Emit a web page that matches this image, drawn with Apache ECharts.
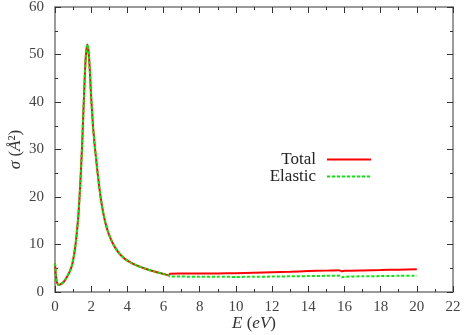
<!DOCTYPE html>
<html>
<head>
<meta charset="utf-8">
<script src="https://cdn.jsdelivr.net/npm/echarts@6/dist/echarts.min.js"></script>
<style>html,body{margin:0;padding:0;background:#fff}#c{width:464px;height:335px}</style>
</head>
<body>
<div id="c"></div>
<script>
// Energy (eV)
var energy = [0, 0.05, 0.1, 0.2, 0.3, 0.45, 0.6, 0.8, 0.95, 1.1, 1.2, 1.3, 1.4, 1.5, 1.6, 1.7, 1.79, 1.88, 2.0, 2.12, 2.3, 2.5, 2.7, 2.9, 3.1, 3.3, 3.6, 4.0, 4.5, 5.0, 5.5, 6.0, 6.3,
              6.35, 7, 8, 9, 10, 11, 12, 13, 14, 15, 15.7, 15.85, 16, 17, 18, 19, 20];
// Total cross section (Å^2)
var totalVals = [6.0, 3.4, 2.1, 1.5, 1.6, 2.0, 2.8, 4.2, 5.8, 9.0, 12.3, 16.5, 23.0, 31.0, 41.0, 49.5, 52.1, 49.5, 41.0, 34.0, 27.0, 20.5, 16.0, 13.0, 11.0, 9.5, 7.9, 6.6, 5.6, 4.9, 4.3, 3.8, 3.5,
                 3.85, 3.88, 3.9, 3.92, 3.95, 4.05, 4.15, 4.25, 4.4, 4.5, 4.6, 4.35, 4.45, 4.55, 4.62, 4.7, 4.78];
// Elastic cross section (Å^2)
var elasticVals = [6.0, 3.4, 2.1, 1.5, 1.6, 2.0, 2.8, 4.2, 5.8, 9.0, 12.3, 16.5, 23.0, 31.0, 41.0, 49.5, 52.1, 49.5, 41.0, 34.0, 27.0, 20.5, 16.0, 13.0, 11.0, 9.5, 7.9, 6.6, 5.6, 4.9, 4.3, 3.8, 3.5,
                   3.3, 3.25, 3.2, 3.2, 3.18, 3.2, 3.25, 3.3, 3.35, 3.4, 3.45, 3.1, 3.22, 3.3, 3.35, 3.4, 3.42];
var seriesNames = ['Total', 'Elastic'];
var xTicks = [0, 22, 2];   // min, max, interval
var yTicks = [0, 60, 10];

function pairs(xs, ys) { return xs.map(function (x, i) { return [x, ys[i]]; }); }

var font = 'Liberation Serif';
var axisLineStyle = { color: '#7a7a7a', width: 1.5 };
var tickStyle = { color: '#333', width: 1 };

function makeAxis(t, pos, labels) {
  return {
    type: 'value', position: pos, min: t[0], max: t[1], interval: t[2],
    axisLine: { show: true, onZero: false, lineStyle: axisLineStyle },
    axisTick: { show: true, inside: true, length: 6, lineStyle: tickStyle },
    minorTick: { show: true, splitNumber: 2, length: 3, lineStyle: tickStyle },
    splitLine: { show: false },
    minorSplitLine: { show: false },
    axisLabel: { show: labels, fontFamily: font, fontSize: 15, color: '#444', margin: (pos === 'left') ? 11 : 8 }
  };
}

var nameStyle = { fontFamily: font, fontSize: 17, color: '#333',
  rich: { i: { fontStyle: 'italic', fontFamily: font, fontSize: 17, color: '#333' } } };

var xMain = makeAxis(xTicks, 'bottom', true);
xMain.name = '{i|E} ({i|eV})';
xMain.nameLocation = 'middle';
xMain.nameGap = 23;
xMain.nameMoveOverlap = false;
xMain.nameTextStyle = nameStyle;

var yMain = makeAxis(yTicks, 'left', true);
yMain.name = '{i|σ} ({i|Å}²)';
yMain.nameLocation = 'middle';
yMain.nameRotate = 90;
yMain.nameGap = 31;
yMain.nameMoveOverlap = false;
yMain.nameTextStyle = nameStyle;

var xTop = makeAxis(xTicks, 'top', false);
var yRight = makeAxis(yTicks, 'right', false);

var chart = echarts.init(document.getElementById('c'), null, { renderer: 'canvas' });
chart.setOption({
  animation: false,
  backgroundColor: '#fff',
  grid: { left: 55, right: 11, top: 7, bottom: 43, containLabel: false, outerBoundsMode: 'none' },
  xAxis: [xMain, xTop],
  yAxis: [yMain, yRight],
  legend: {
    orient: 'vertical', right: 87, top: 146, align: 'right',
    itemWidth: 44, itemHeight: 10, itemGap: 0,
    itemStyle: { opacity: 0 },
    textStyle: { fontFamily: font, fontSize: 17, lineHeight: 15, color: '#222', padding: [0, 6, 0, 0] },
    data: seriesNames
  },
  series: [
    { name: seriesNames[0], type: 'line', data: pairs(energy, totalVals), showSymbol: false, symbol: 'none',
      smooth: 0.25, lineStyle: { color: '#ff0000', width: 2 }, itemStyle: { color: '#ff0000' } },
    { name: seriesNames[1], type: 'line', data: pairs(energy, elasticVals), showSymbol: false, symbol: 'none',
      smooth: 0.25, lineStyle: { color: '#00ee00', width: 2, type: [3, 2] }, itemStyle: { color: '#00ee00' } }
  ]
});
</script>
</body>
</html>
